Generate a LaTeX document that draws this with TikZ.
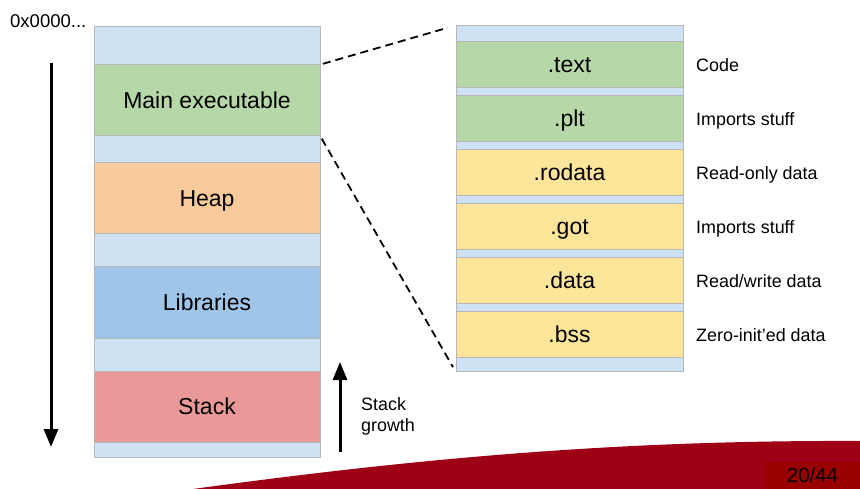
\documentclass[tikz,border=0pt]{standalone}
\usepackage{fontspec}
\setmainfont{Liberation Sans}
\usetikzlibrary{arrows.meta}
\definecolor{segbg}{HTML}{CFE2F3}
\definecolor{seggreen}{HTML}{B6D7A8}
\definecolor{segorange}{HTML}{F9CB9C}
\definecolor{segblue}{HTML}{9FC5E8}
\definecolor{segred}{HTML}{EA9999}
\definecolor{segyellow}{HTML}{FFE599}
\definecolor{segline}{HTML}{B7B7B7}
\definecolor{swoosh}{HTML}{9E0016}
\definecolor{pagebox}{HTML}{990000}
\tikzset{
  colbox/.style={draw=segline, line width=1pt, fill=segbg, inner sep=0pt},
  bigseg/.style={draw=segline, line width=1pt, minimum width=226pt, minimum height=71pt, inner sep=0pt, text height=16.5pt, text depth=0pt, font=\fontsize{23}{27}\selectfont},
  smallseg/.style={draw=segline, line width=1pt, minimum width=227pt, minimum height=46pt, inner sep=0pt, text height=16.5pt, text depth=0pt, font=\fontsize{23}{27}\selectfont},
  note/.style={anchor=west, inner sep=0pt, text height=12.8pt, text depth=0pt, font=\fontsize{17.9}{21}\selectfont},
  zoomline/.style={dashed, dash pattern=on 8pt off 5pt, line width=1.8pt},
  bigarrow/.style={line width=3pt, -{Triangle[length=18pt,width=14pt]}}
}
\begin{document}
\begin{tikzpicture}[x=1pt,y=-1pt]
\useasboundingbox (0,0) rectangle (860,489);
% footer swoosh
\fill[swoosh] (193,489) .. controls (420,458) and (620,440) .. (860,441) -- (860,489) -- cycle;
\node[fill=pagebox, minimum width=95pt, minimum height=27.5pt, inner sep=0pt, text height=14.7pt, text depth=0pt, font=\fontsize{20.5}{24}\selectfont] (page) at (812.5,475.25) {20/44};
% left column
\node[colbox, minimum width=226pt, minimum height=430pt] (leftcol) at (207,242) {};
\node[bigseg, fill=seggreen] (main) at (207,100.5) {Main executable};
\node[bigseg, fill=segorange] (heap) at (207,198.5) {Heap};
\node[bigseg, fill=segblue] (libs) at (207,302.5) {Libraries};
\node[bigseg, fill=segred] (stack) at (207,406.5) {Stack};
% address label and arrows
\node[anchor=west, inner sep=0pt, text height=13.3pt, text depth=0pt, font=\fontsize{18.5}{22}\selectfont] (addr) at (10,21) {0x0000...};
\coordinate (dtop) at (51,63);
\coordinate (dbot) at (51,447);
\draw[bigarrow] (dtop) -- (dbot);
\coordinate (gbot) at (340,452);
\coordinate (gtop) at (340,362);
\draw[bigarrow] (gbot) -- (gtop);
\node[anchor=north west, inner sep=0pt, align=left, font=\fontsize{17.9}{21}\selectfont] (growth) at (361,397.5) {Stack\\growth};
% right column
\node[colbox, minimum width=227pt, minimum height=345pt] (rightcol) at (569.5,198.5) {};
\node[smallseg, fill=seggreen] (text) at (569.5,64.5) {.text};
\node[smallseg, fill=seggreen] (plt) at (569.5,118.5) {.plt};
\node[smallseg, fill=segyellow] (rodata) at (569.5,172.5) {.rodata};
\node[smallseg, fill=segyellow] (got) at (569.5,226.5) {.got};
\node[smallseg, fill=segyellow] (data) at (569.5,280.5) {.data};
\node[smallseg, fill=segyellow] (bss) at (569.5,334.5) {.bss};
\node[note] (ncode) at (696,65) {Code};
\node[note] (nplt) at (696,119) {Imports stuff};
\node[note] (nrodata) at (696,173) {Read-only data};
\node[note] (ngot) at (696,227) {Imports stuff};
\node[note] (ndata) at (696,281) {Read/write data};
\node[note] (nbss) at (696,335) {Zero-init’ed data};
% zoom lines
\draw[zoomline, shorten <=2.5pt, shorten >=8pt] (main.north east) -- (rightcol.north west);
\draw[zoomline, shorten <=2.5pt, shorten >=5pt] (main.south east) -- (rightcol.south west);
\end{tikzpicture}
\end{document}
